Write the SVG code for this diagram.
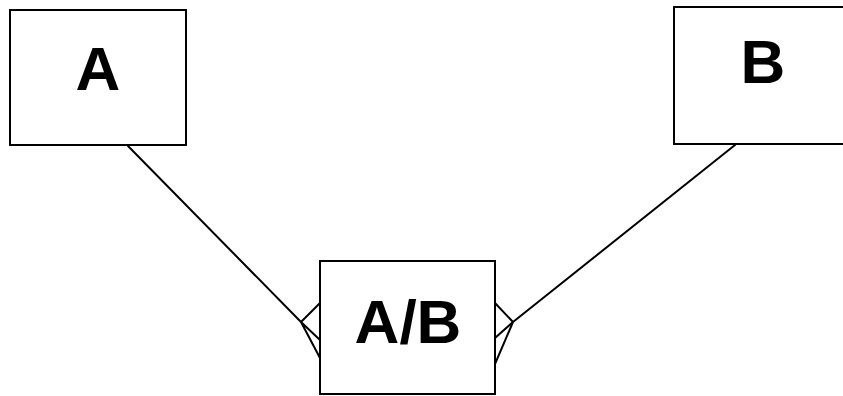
<svg xmlns="http://www.w3.org/2000/svg" width="843" height="396" viewBox="0 0 843 396">
<style>
.box{fill:#fff;stroke:#000;stroke-width:2}
.lbl{font-family:"Liberation Sans",Arial,sans-serif;font-size:62px;font-weight:bold;fill:#000;text-anchor:middle}
.ln{stroke:#000;stroke-width:2;fill:none;stroke-linecap:round}
</style>
<rect width="843" height="396" fill="#fff"/>
<g id="connectors">
<path class="ln" d="M128,146 L301,322 M301,322 L320,303 M301,322 L320,340 M301,322 L320,358"/>
<path class="ln" d="M735,145 L513,322 M513,322 L495,303 M513,322 L495,338 M513,322 L495,364"/>
</g>
<g id="node-a">
<rect class="box" x="10" y="10" width="176" height="135"/>
<text class="lbl" x="98" y="90">A</text>
</g>
<g id="node-b">
<rect class="box" x="674" y="7" width="180" height="137"/>
<text class="lbl" x="763" y="83">B</text>
</g>
<g id="node-ab">
<rect class="box" x="320" y="261" width="175" height="133"/>
<text class="lbl" x="408" y="343">A/B</text>
</g>
</svg>
